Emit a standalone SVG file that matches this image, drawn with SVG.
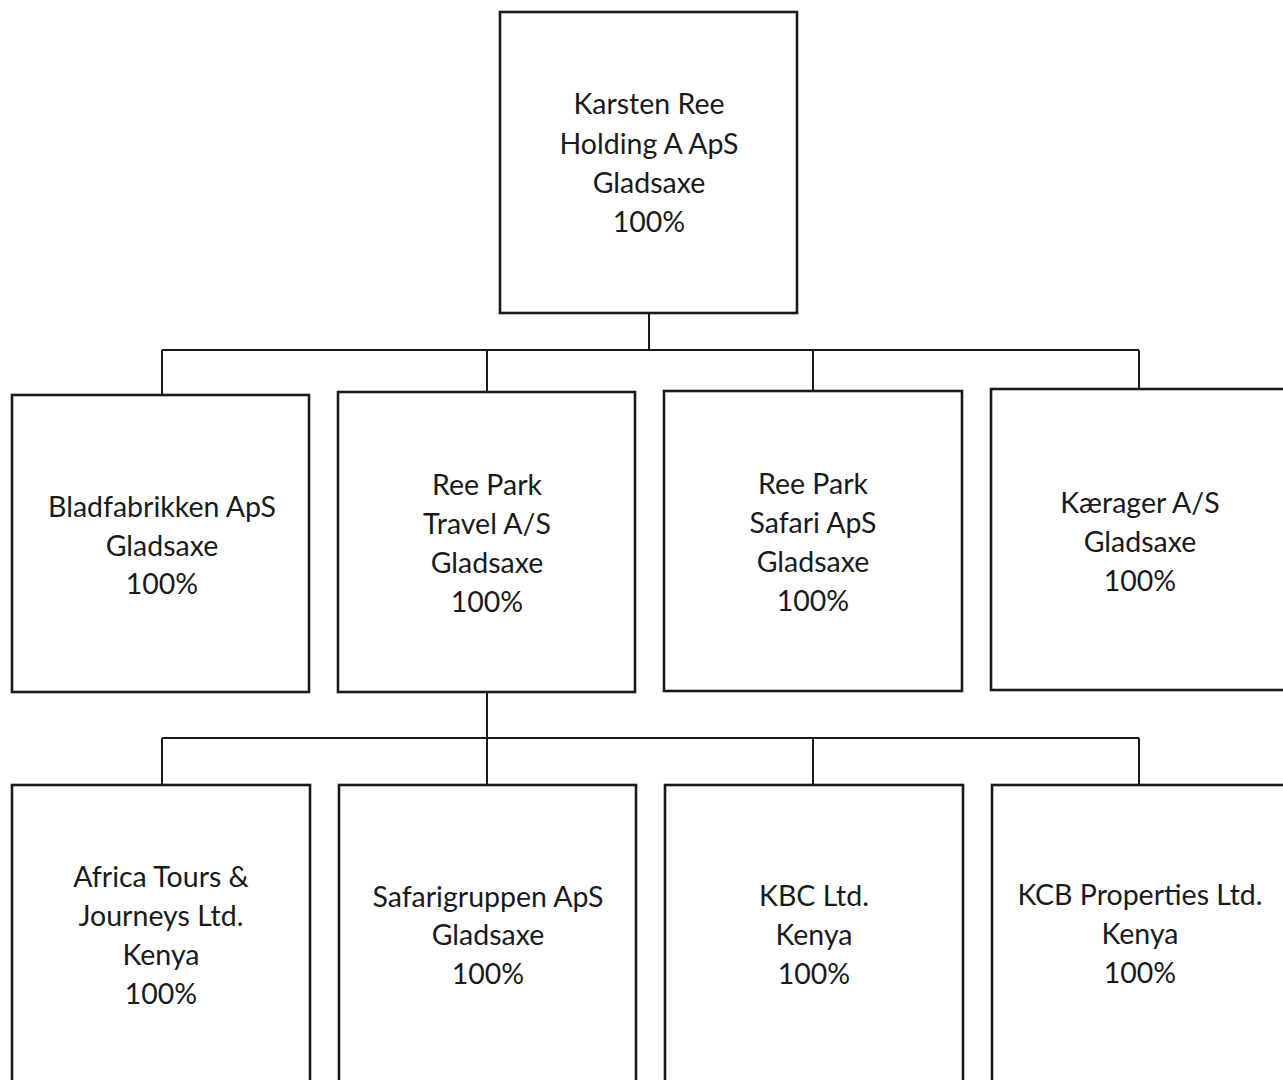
<svg xmlns="http://www.w3.org/2000/svg" width="1283" height="1080" viewBox="0 0 1283 1080">
<style>
.box{fill:#fff;stroke:#1a1a1a;stroke-width:2.6}
.t{font-family:Lato,"Open Sans",sans-serif;font-size:28.5px;fill:#1a1a1a;text-anchor:middle}
.c{fill:none;stroke:#1a1a1a;stroke-width:2}
</style>
<rect width="1283" height="1080" fill="#fff"/>
<g id="connectors">
<path class="c" d="M649 313V350M162 350H1139M162 350V394M487 350V392M813 350V391M1139 350V389"/>
<path class="c" d="M487 692V738M162 738H1139M162 738V785M487 738V785M813 738V785M1139 738V785"/>
</g>
<g id="n-karsten">
<rect class="box" x="500" y="12" width="297" height="301"/>
<text class="t" x="649" y="114">Karsten Ree</text>
<text class="t" x="649" y="154">Holding A ApS</text>
<text class="t" x="649" y="193">Gladsaxe</text>
<text class="t" x="649" y="232">100%</text>
</g>
<g id="n-bladfabrikken">
<rect class="box" x="12" y="395" width="297" height="297"/>
<text class="t" x="162" y="517">Bladfabrikken ApS</text>
<text class="t" x="162" y="556">Gladsaxe</text>
<text class="t" x="162" y="594">100%</text>
</g>
<g id="n-travel">
<rect class="box" x="338" y="392" width="297" height="300"/>
<text class="t" x="487" y="495">Ree Park</text>
<text class="t" x="487" y="534">Travel A/S</text>
<text class="t" x="487" y="573">Gladsaxe</text>
<text class="t" x="487" y="612">100%</text>
</g>
<g id="n-safari">
<rect class="box" x="664" y="391" width="298" height="300"/>
<text class="t" x="813" y="494">Ree Park</text>
<text class="t" x="813" y="533">Safari ApS</text>
<text class="t" x="813" y="572">Gladsaxe</text>
<text class="t" x="813" y="611">100%</text>
</g>
<g id="n-kaerager">
<rect class="box" x="991" y="389" width="300" height="301"/>
<text class="t" x="1140" y="513">Kærager A/S</text>
<text class="t" x="1140" y="552">Gladsaxe</text>
<text class="t" x="1140" y="591">100%</text>
</g>
<g id="n-africa">
<rect class="box" x="12" y="785" width="298" height="310"/>
<text class="t" x="161" y="887">Africa Tours &amp;</text>
<text class="t" x="161" y="926">Journeys Ltd.</text>
<text class="t" x="161" y="965">Kenya</text>
<text class="t" x="161" y="1004">100%</text>
</g>
<g id="n-safarigruppen">
<rect class="box" x="339" y="785" width="297" height="310"/>
<text class="t" x="488" y="907">Safarigruppen ApS</text>
<text class="t" x="488" y="945">Gladsaxe</text>
<text class="t" x="488" y="984">100%</text>
</g>
<g id="n-kbc">
<rect class="box" x="665" y="785" width="298" height="310"/>
<text class="t" x="814" y="906">KBC Ltd.</text>
<text class="t" x="814" y="945">Kenya</text>
<text class="t" x="814" y="984">100%</text>
</g>
<g id="n-kcb">
<rect class="box" x="992" y="785" width="300" height="310"/>
<text class="t" x="1140" y="905">KCB Properties Ltd.</text>
<text class="t" x="1140" y="944">Kenya</text>
<text class="t" x="1140" y="983">100%</text>
</g>
</svg>
